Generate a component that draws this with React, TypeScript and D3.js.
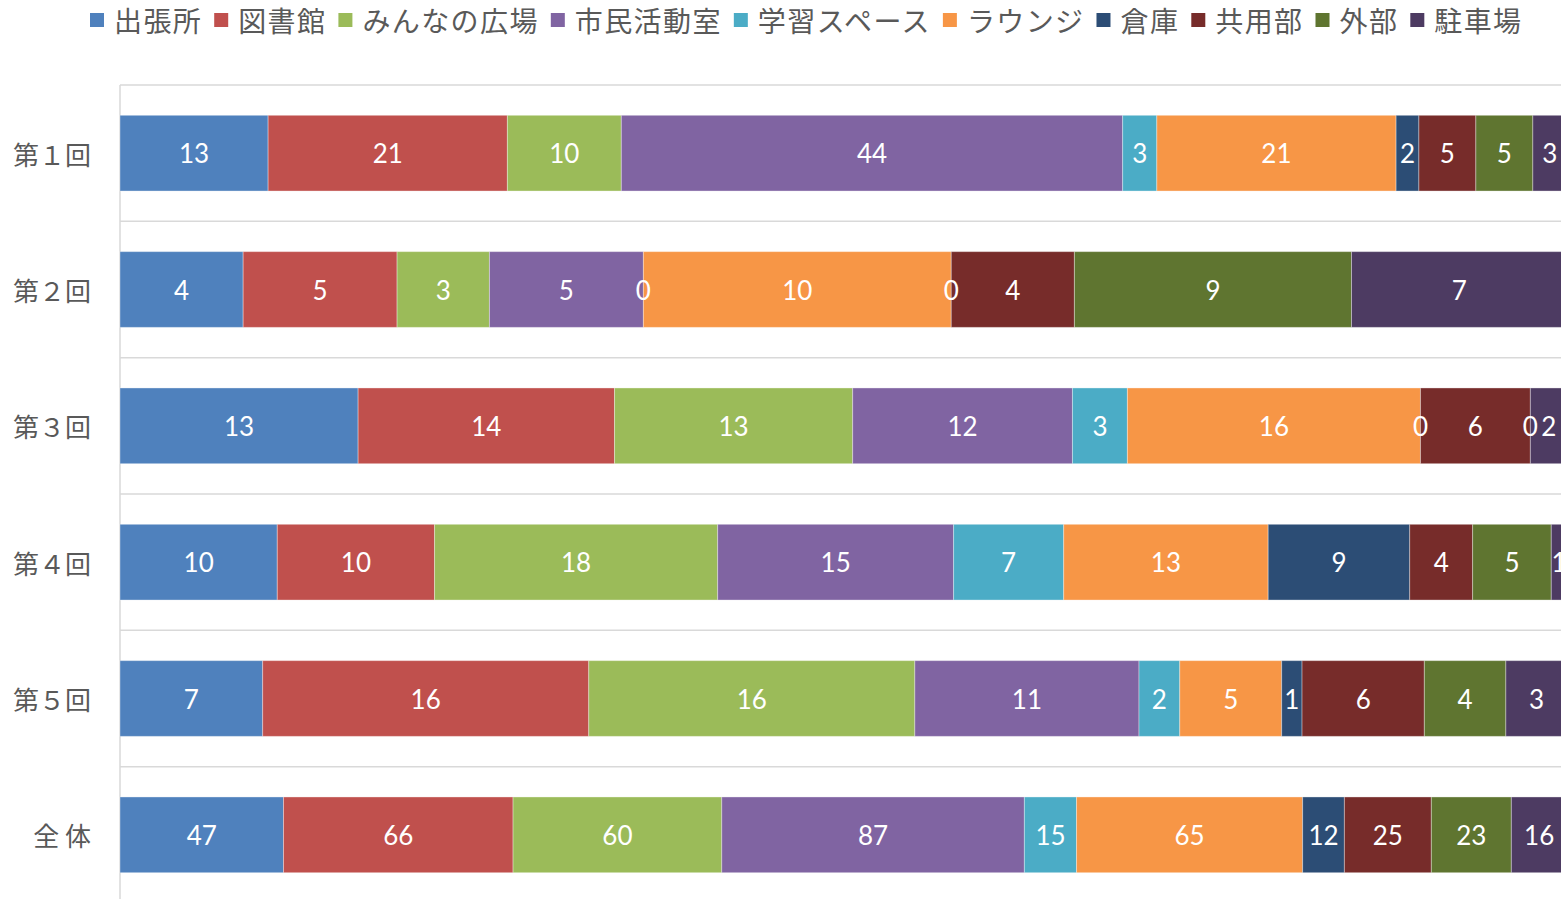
import React, { useEffect, useRef } from "react";
import * as d3 from "d3";

const categories = ["第１回", "第２回", "第３回", "第４回", "第５回", "全 体"];
const seriesNames = ["出張所", "図書館", "みんなの広場", "市民活動室", "学習スペース", "ラウンジ", "倉庫", "共用部", "外部", "駐車場"];
const seriesColors = ["#4F81BD", "#C0504D", "#9BBB59", "#8064A2", "#4BACC6", "#F79646", "#2C4D75", "#772C2A", "#5F7530", "#4D3B62"];

const shutchojo = [13, 4, 13, 10, 7, 47];
const toshokan = [21, 5, 14, 10, 16, 66];
const minnanoHiroba = [10, 3, 13, 18, 16, 60];
const shiminKatsudoshitsu = [44, 5, 12, 15, 11, 87];
const gakushuSpace = [3, 0, 3, 7, 2, 15];
const lounge = [21, 10, 16, 13, 5, 65];
const soko = [2, 0, 0, 9, 1, 12];
const kyoyobu = [5, 4, 6, 4, 6, 25];
const gaibu = [5, 9, 0, 5, 4, 23];
const chushajo = [3, 7, 2, 1, 3, 16];

const seriesValues = [shutchojo, toshokan, minnanoHiroba, shiminKatsudoshitsu, gakushuSpace, lounge, soko, kyoyobu, gaibu, chushajo];

const W = 1561;
const H = 899;
const CJK = "'Noto Sans CJK JP', 'Noto Sans', sans-serif";

export default function App() {
  const ref = useRef<SVGSVGElement>(null);

  useEffect(() => {
    const svg = d3.select(ref.current);
    svg.selectAll("*").remove();

    const left = 120;
    const plotW = 1447;
    const top = 85;
    const plotH = 818;

    const x = d3.scaleLinear().domain([0, 1]).range([left, left + plotW]);
    const y = d3.scaleBand<string>().domain(categories).range([top, top + plotH]).paddingInner(0.8 / 1.8).paddingOuter(0.4 / 1.8);
    const step = y.step();

    // gridlines at category boundaries
    const g = svg.append("g");
    categories.forEach((c, i) => {
      const yy = top + i * step;
      g.append("line").attr("x1", left).attr("x2", left + plotW).attr("y1", yy).attr("y2", yy)
        .attr("stroke", "#d9d9d9").attr("stroke-width", 1.5);
    });
    g.append("line").attr("x1", left).attr("x2", left).attr("y1", top).attr("y2", top + plotH)
      .attr("stroke", "#d9d9d9").attr("stroke-width", 1.5);

    // bars
    categories.forEach((c, ci) => {
      const vals = seriesValues.map((s) => s[ci]);
      const total = d3.sum(vals);
      let cum = 0;
      vals.forEach((v, si) => {
        const x0 = x(cum / total);
        const x1 = x((cum + v) / total);
        cum += v;
        if (v > 0) {
          svg.append("rect").attr("x", x0).attr("y", y(c)!).attr("width", x1 - x0).attr("height", y.bandwidth())
            .attr("fill", seriesColors[si]).attr("stroke", "#ffffff").attr("stroke-opacity", 0.35).attr("stroke-width", 1);
        }
      });
      cum = 0;
      vals.forEach((v) => {
        const cx = x((cum + v / 2) / total);
        cum += v;
        svg.append("text").attr("x", cx).attr("y", y(c)! + y.bandwidth() / 2)
          .attr("text-anchor", "middle").attr("dominant-baseline", "central")
          .attr("fill", "#ffffff").attr("font-family", "Lato, 'Open Sans', sans-serif").attr("font-size", 26)
          .text(String(v));
      });
      svg.append("text").attr("x", 91).attr("y", y(c)! + y.bandwidth() / 2)
        .attr("text-anchor", "end").attr("dominant-baseline", "central")
        .attr("fill", "#595959").attr("font-family", CJK).attr("font-size", 26)
        .style("white-space", "pre")
        .text(c);
    });

    // legend
    const lg = svg.append("g");
    let lx = 90;
    seriesNames.forEach((n, i) => {
      lg.append("rect").attr("x", lx).attr("y", 13).attr("width", 14).attr("height", 14).attr("fill", seriesColors[i]);
      const t = lg.append("text").attr("x", lx + 24).attr("y", 20)
        .attr("dominant-baseline", "central").attr("fill", "#595959")
        .attr("font-family", CJK).attr("font-size", 28).attr("letter-spacing", 1.4)
        .text(n);
      const w = (t.node() as SVGTextElement).getComputedTextLength();
      lx = lx + 24 + w + 12;
    });
  }, []);

  return (
    <div style={{ position: "absolute", left: 0, top: 0, width: W, height: H, overflow: "hidden", background: "#fff" }}>
      <svg ref={ref} width={W} height={H} style={{ display: "block" }} />
    </div>
  );
}
